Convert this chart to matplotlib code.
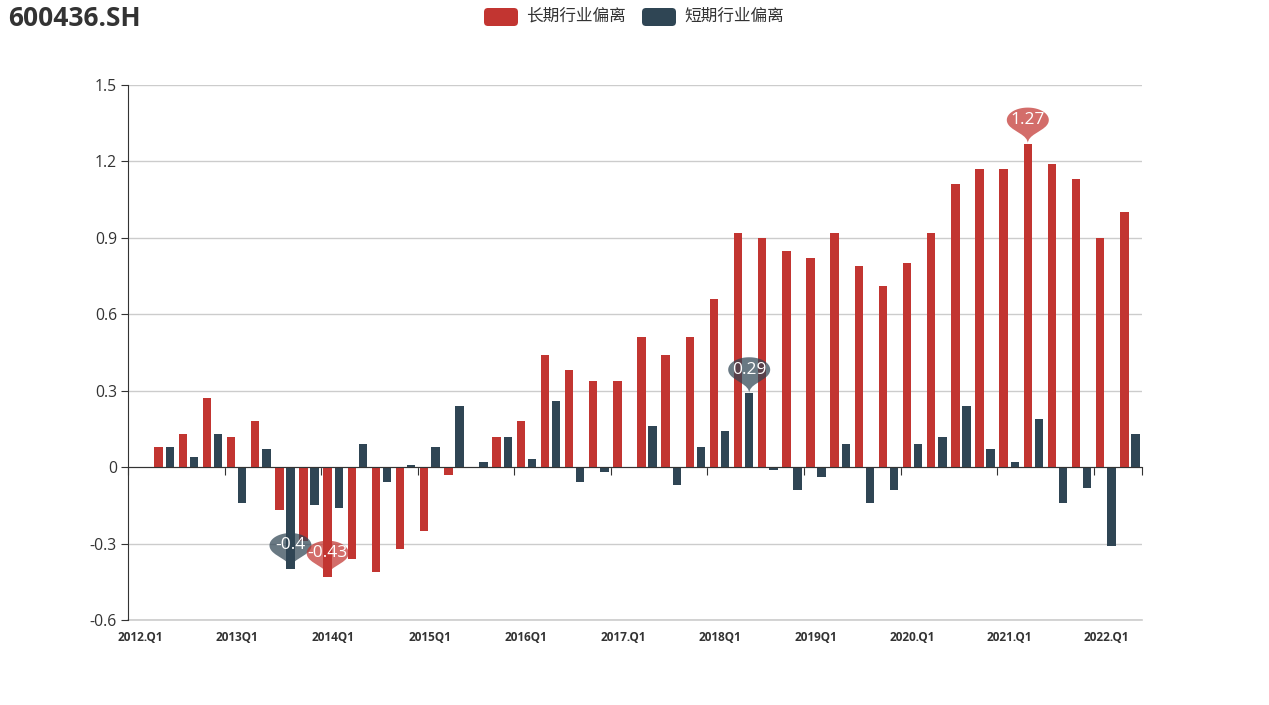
import numpy as np
import matplotlib
matplotlib.use("Agg")
import matplotlib.pyplot as plt
from matplotlib.path import Path
from matplotlib.patches import PathPatch, FancyBboxPatch
from matplotlib.transforms import ScaledTranslation, blended_transform_factory, IdentityTransform

plt.rcParams['font.family'] = ['Open Sans', 'Noto Sans CJK SC', 'DejaVu Sans']

# ---------------- data ----------------
title = "600436.SH"
series_names = ["长期行业偏离", "短期行业偏离"]
categories = [
    "2012.Q1", "2012.Q2", "2012.Q3", "2012.Q4",
    "2013Q1", "2013Q2", "2013Q3", "2013Q4",
    "2014Q1", "2014Q2", "2014Q3", "2014Q4",
    "2015Q1", "2015Q2", "2015Q3", "2015Q4",
    "2016Q1", "2016Q2", "2016Q3", "2016Q4",
    "2017.Q1", "2017.Q2", "2017.Q3", "2017.Q4",
    "2018Q1", "2018Q2", "2018Q3", "2018Q4",
    "2019Q1", "2019Q2", "2019Q3", "2019Q4",
    "2020.Q1", "2020.Q2", "2020.Q3", "2020.Q4",
    "2021.Q1", "2021.Q2", "2021.Q3", "2021.Q4",
    "2022.Q1", "2022.Q2",
]
long_dev = [np.nan, 0.08, 0.13, 0.27, 0.12, 0.18, -0.17, -0.29, -0.43, -0.36,
            -0.41, -0.32, -0.25, -0.03, 0.0, 0.12, 0.18, 0.44, 0.38, 0.34,
            0.34, 0.51, 0.44, 0.51, 0.66, 0.92, 0.90, 0.85, 0.82, 0.92,
            0.79, 0.71, 0.80, 0.92, 1.11, 1.17, 1.17, 1.27, 1.19, 1.13,
            0.90, 1.00]
short_dev = [np.nan, 0.08, 0.04, 0.13, -0.14, 0.07, -0.40, -0.15, -0.16, 0.09,
             -0.06, 0.01, 0.08, 0.24, 0.02, 0.12, 0.03, 0.26, -0.06, -0.02,
             0.0, 0.16, -0.07, 0.08, 0.14, 0.29, -0.01, -0.09, -0.04, 0.09,
             -0.14, -0.09, 0.09, 0.12, 0.24, 0.07, 0.02, 0.19, -0.14, -0.08,
             -0.31, 0.13]
y_ticks = [-0.6, -0.3, 0.0, 0.3, 0.6, 0.9, 1.2, 1.5]
y_tick_labels = ["-0.6", "-0.3", "0", "0.3", "0.6", "0.9", "1.2", "1.5"]
label_every = 4

RED = '#c23531'
BLUE = '#2f4554'
TXT = '#333333'
GRID = '#cccccc'

W, H = 1269, 705
fig = plt.figure(figsize=(W / 100, H / 100), dpi=100)
L, R, T, B = 128, 1142, 85, 620
ax = fig.add_axes([L / W, (H - B) / H, (R - L) / W, (B - T) / H])

n = len(categories)
x = np.arange(n) + 0.5
red = np.array(long_dev, dtype=float)
blue = np.array(short_dev, dtype=float)

ax.bar(x - 0.23, red, width=0.35, color=RED, zorder=2)
ax.bar(x + 0.23, blue, width=0.35, color=BLUE, zorder=2)

ax.set_xlim(0, n)
ax.set_ylim(-0.6, 1.5)
ax.set_yticks(y_ticks)
ax.set_yticklabels(y_tick_labels)
ax.yaxis.grid(True, color=GRID, lw=1)
ax.axhline(y_ticks[0], color=GRID, lw=1.2, clip_on=False, zorder=0.5)
ax.set_axisbelow(True)
ax.tick_params(axis='y', length=5, color=TXT, labelcolor=TXT, labelsize=11.3, pad=3)

for s in ['top', 'right']:
    ax.spines[s].set_visible(False)
ax.spines['left'].set_color(TXT)
ax.spines['bottom'].set_position(('data', 0))
ax.spines['bottom'].set_color(TXT)
xt = list(range(0, n, label_every)) + [n]
ax.set_xticks(xt)
ax.tick_params(axis='x', length=6, color=TXT, labelbottom=False)

btrans = blended_transform_factory(ax.transData, ax.transAxes)
for i in range(0, n, label_every):
    ax.text(x[i], -0.032, categories[i], transform=btrans, ha='center', va='center',
            fontsize=8.5, fontweight='bold', color=TXT)

# ---------------- pins (echarts style markPoint) ----------------
def pin_vertices(sx, sy):
    r, h = 15.0, 50.0
    dy = r * r / (h - r)
    C = h - r - dy
    a = np.arcsin(dy / r)
    dx = np.cos(a) * r
    tanX, tanY = np.sin(a), np.cos(a)
    cp1, cp2 = r * 0.6, r * 0.7
    verts, codes = [], []
    angs = np.linspace(np.pi + a, -a, 60)
    for k, t in enumerate(angs):
        verts.append((r * np.cos(t), C + r * np.sin(t)))
        codes.append(Path.MOVETO if k == 0 else Path.LINETO)
    verts += [(dx - tanX * cp1, C - dy - tanY * cp1), (0, cp2), (0, 0)]
    codes += [Path.CURVE4] * 3
    verts += [(0, cp2), (-dx + tanX * cp1, C - dy - tanY * cp1), (-dx, C - dy)]
    codes += [Path.CURVE4] * 3
    verts.append((0, 0))
    codes.append(Path.CLOSEPOLY)
    v = np.array(verts) * np.array([sx, sy]) / 100.0
    return Path(v, codes), C * sy


SX, SY = 42 / 30.0, 36 / 43.57


def draw_pin(xv, yv, color, text):
    path, cy = pin_vertices(SX, SY)
    tr = fig.dpi_scale_trans + ScaledTranslation(xv, yv, ax.transData)
    p = PathPatch(path, facecolor=color, edgecolor='none', alpha=0.72,
                  transform=tr, clip_on=False, zorder=5)
    ax.add_patch(p)
    ax.annotate(text, xy=(xv, yv), xytext=(0, cy * 0.72), textcoords='offset points',
                ha='center', va='center', color='white', fontsize=12.5, zorder=6)


for vals, offs, col in [(blue, 0.23, BLUE), (red, -0.23, RED)]:
    for idx in [int(np.nanargmax(vals)), int(np.nanargmin(vals))]:
        draw_pin(x[idx] + offs, vals[idx], col, f"{vals[idx]:g}")

# ---------------- title & legend ----------------
fig.text(8 / W, 1 - 19 / H, title, fontsize=19, fontweight='bold', color=TXT,
         ha='left', va='center')

leg_x = [484, 642]
for lx, name, col in zip(leg_x, series_names, [RED, BLUE]):
    rect = FancyBboxPatch((lx, H - 26), 34, 18, boxstyle="round,pad=0,rounding_size=4",
                          facecolor=col, edgecolor='none', transform=IdentityTransform())
    fig.add_artist(rect)
    fig.text((lx + 42) / W, 1 - 17 / H, name, fontsize=12, color=TXT, ha='left', va='center')

fig.savefig('out.png', dpi=100)
